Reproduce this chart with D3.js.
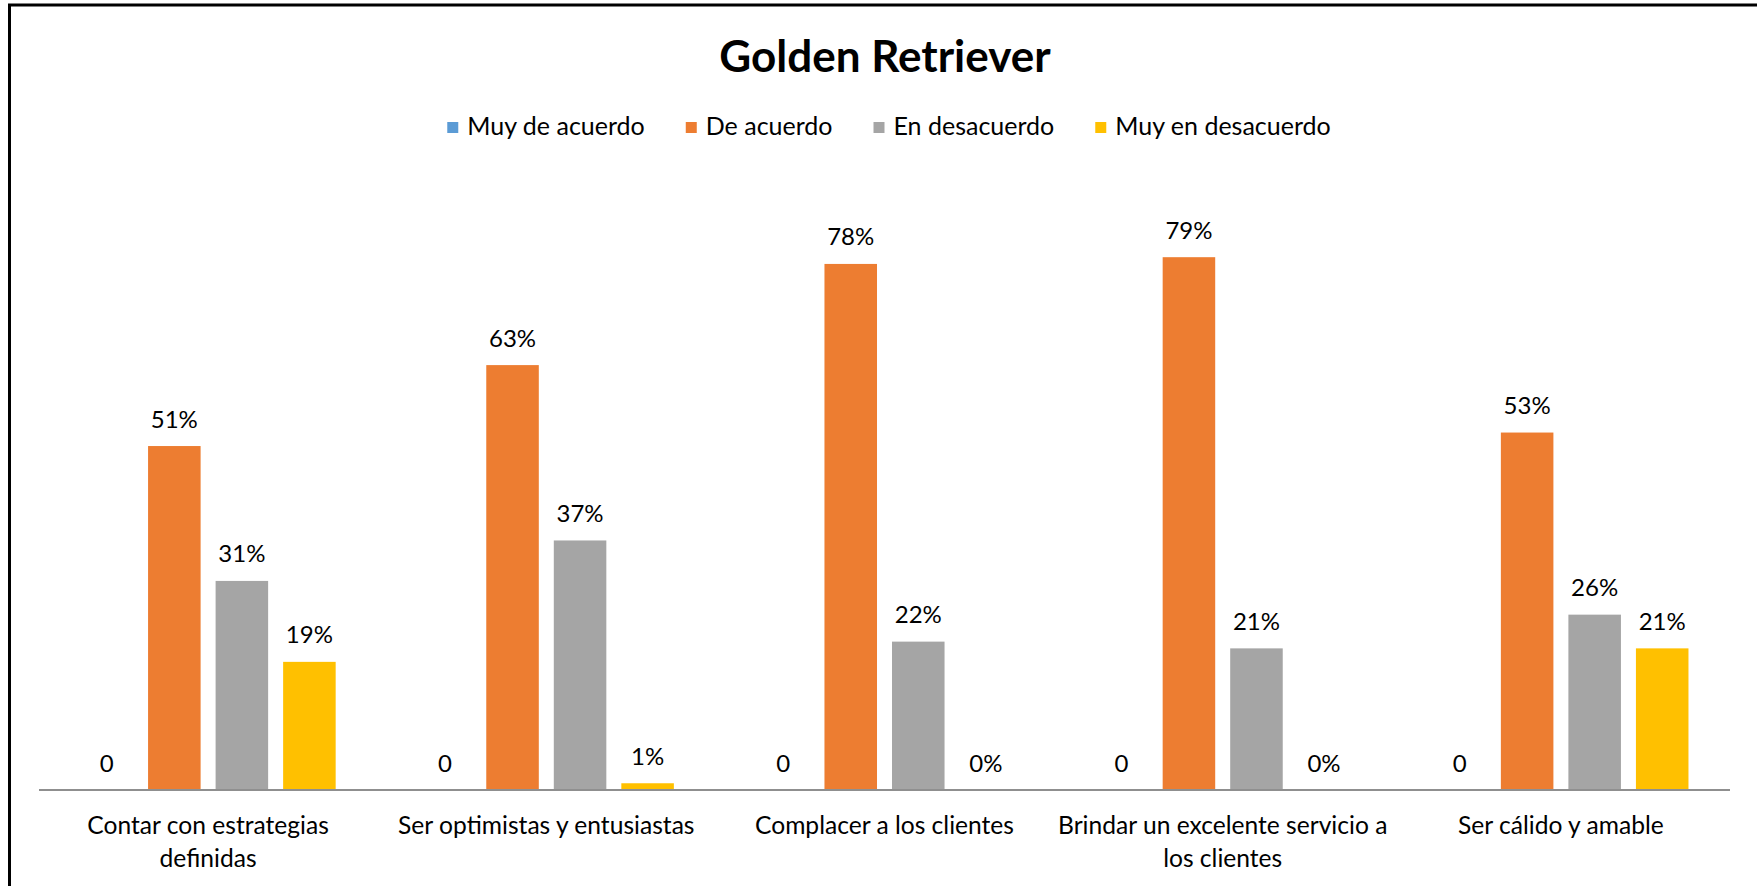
<!DOCTYPE html>
<html>
<head>
<meta charset="utf-8">
<script src="https://cdn.jsdelivr.net/npm/d3@7"></script>
<style>
  html, body { margin: 0; padding: 0; background: #fff; }
  svg { display: block; }
  text { font-family: Lato, "Open Sans", sans-serif; fill: #000; }
</style>
</head>
<body>
<svg id="chart" width="1757" height="886"></svg>
<script>
// Survey results: "Golden Retriever" profile
const categories = [
  "Contar con estrategias definidas",
  "Ser optimistas y entusiastas",
  "Complacer a los clientes",
  "Brindar un excelente servicio a los clientes",
  "Ser cálido y amable"
];
const seriesNames = ["Muy de acuerdo", "De acuerdo", "En desacuerdo", "Muy en desacuerdo"];
const muyDeAcuerdo    = [0, 0, 0, 0, 0];
const deAcuerdo       = [0.51, 0.63, 0.78, 0.79, 0.53];
const enDesacuerdo    = [0.31, 0.37, 0.22, 0.21, 0.26];
const muyEnDesacuerdo = [0.19, 0.01, 0, 0, 0.21];
const seriesColors = ["#5B9BD5", "#ED7D31", "#A5A5A5", "#FFC000"];
const title = "Golden Retriever";

const seriesValues = [muyDeAcuerdo, deAcuerdo, enDesacuerdo, muyEnDesacuerdo];
// First series shows plain numbers, the rest percentages
const labelFormats = [d3.format("d"), d3.format(".0%"), d3.format(".0%"), d3.format(".0%")];

const W = 1757, H = 886;
const FONT = 24;
const LEGEND_FONT = 25;
const CAT_FONT = 24.6;
const svg = d3.select("#chart");

// Outer frame (left and top edges visible)
svg.append("rect")
  .attr("x", 9.5).attr("y", 5)
  .attr("width", W + 20).attr("height", H + 20)
  .attr("fill", "none").attr("stroke", "#000").attr("stroke-width", 3);

const plot = { left: 39, right: 1730, top: 183, bottom: 790 };

const x0 = d3.scaleBand()
  .domain(categories)
  .range([plot.left, plot.right])
  .paddingInner(0).paddingOuter(0);

const x1 = d3.scaleBand()
  .domain(seriesNames)
  .range([0, x0.bandwidth()])
  .paddingInner(0.222)
  .paddingOuter(0.615);

const y = d3.scaleLinear().domain([0, 0.9]).range([plot.bottom, plot.top]);

// Title
svg.append("text")
  .attr("x", 885).attr("y", 72)
  .attr("text-anchor", "middle")
  .style("font-size", "44px").style("font-weight", "bold")
  .text(title);

// Legend
const legend = svg.append("g");
let lx = 0;
seriesNames.forEach((name, i) => {
  const g = legend.append("g").attr("transform", `translate(${lx},0)`);
  g.append("rect").attr("x", 0).attr("y", -13).attr("width", 11).attr("height", 11)
    .attr("fill", seriesColors[i]);
  const t = g.append("text").attr("x", 20).attr("y", 0)
    .style("font-size", LEGEND_FONT + "px").text(name);
  lx += 20 + t.node().getComputedTextLength() + 41;
});
const legendWidth = lx - 41;
legend.attr("transform", `translate(${889 - legendWidth / 2},135)`);

// Bars and value labels
const groups = svg.append("g").selectAll("g")
  .data(categories)
  .join("g")
  .attr("transform", d => `translate(${x0(d)},0)`);

groups.each(function(cat, ci) {
  const g = d3.select(this);
  seriesNames.forEach((s, si) => {
    const v = seriesValues[si][ci];
    g.append("rect")
      .attr("x", x1(s))
      .attr("y", y(v))
      .attr("width", x1.bandwidth())
      .attr("height", y(0) - y(v))
      .attr("fill", seriesColors[si]);
    g.append("text")
      .attr("x", x1(s) + x1.bandwidth() / 2)
      .attr("y", y(v) - 18.5)
      .attr("text-anchor", "middle")
      .style("font-size", FONT + "px")
      .text(labelFormats[si](v));
  });
});

// Category axis line
const xAxis = d3.axisBottom(x0).tickSize(0).tickFormat("");
const axisG = svg.append("g")
  .attr("transform", `translate(0,${plot.bottom})`)
  .call(xAxis);
axisG.select(".domain").attr("stroke", "#8f8f8f").attr("stroke-width", 2)
  .attr("d", `M${plot.left},0H${plot.right}`);

// Category labels, wrapped to the band width
const catLabels = svg.append("g");
categories.forEach(cat => {
  const cx = x0(cat) + x0.bandwidth() / 2;
  const text = catLabels.append("text")
    .attr("text-anchor", "middle")
    .style("font-size", CAT_FONT + "px");
  const maxW = x0.bandwidth() - 2;
  const words = cat.split(/\s+/);
  const lines = [];
  let line = [];
  const probe = text.append("tspan");
  words.forEach(w => {
    line.push(w);
    probe.text(line.join(" "));
    if (probe.node().getComputedTextLength() > maxW && line.length > 1) {
      line.pop();
      lines.push(line.join(" "));
      line = [w];
    }
  });
  lines.push(line.join(" "));
  probe.remove();
  lines.forEach((l, i) => {
    text.append("tspan").attr("x", cx).attr("y", 834 + i * 33).text(l);
  });
});
</script>
</body>
</html>
